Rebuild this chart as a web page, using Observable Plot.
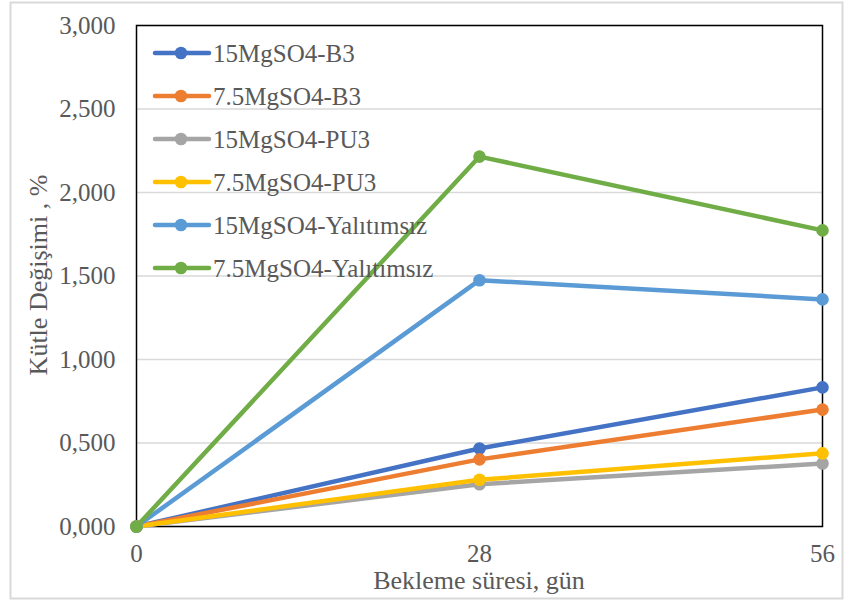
<!DOCTYPE html>
<html>
<head>
<meta charset="utf-8">
<script src="https://cdn.jsdelivr.net/npm/d3@7"></script>
<script src="https://cdn.jsdelivr.net/npm/@observablehq/plot@0.6"></script>
<style>
  html, body { margin: 0; padding: 0; background: #fff; }
  #chart { position: relative; width: 848px; height: 603px; }
</style>
</head>
<body>
<div id="chart"></div>
<script>
// ---- data ----
const days = [0, 28, 56];
const seriesNames = [
  "15MgSO4-B3",
  "7.5MgSO4-B3",
  "15MgSO4-PU3",
  "7.5MgSO4-PU3",
  "15MgSO4-Yalıtımsız",
  "7.5MgSO4-Yalıtımsız"
];
const s15B3   = [0, 0.467, 0.833];
const s75B3   = [0, 0.402, 0.700];
const s15PU3  = [0, 0.253, 0.377];
const s75PU3  = [0, 0.280, 0.438];
const s15Yal  = [0, 1.475, 1.360];
const s75Yal  = [0, 2.215, 1.773];
const seriesColors = ["#4472C4", "#ED7D31", "#A5A5A5", "#FFC000", "#5B9BD5", "#70AD47"];
const yTicks = [0, 0.5, 1, 1.5, 2, 2.5, 3];
const xTicks = [0, 28, 56];
const xTitle = "Bekleme süresi, gün";
const yTitle = "Kütle Değişimi , %";

const allValues = [s15B3, s75B3, s15PU3, s75PU3, s15Yal, s75Yal];
const rows = [];
seriesNames.forEach((name, i) => {
  days.forEach((d, j) => rows.push({series: name, day: d, value: allValues[i][j]}));
});

const fmt = d3.formatLocale({decimal: ",", thousands: ".", grouping: [3], currency: ["", ""]}).format(".3f");

const font = "'Liberation Serif', 'Times New Roman', serif";
const textColor = "#595959";
const tickFont = 25;
const legendFont = 25;
const titleFont = 26;

const plot = Plot.plot({
  width: 848,
  height: 603,
  marginLeft: 136,
  marginRight: 26,
  marginTop: 25,
  marginBottom: 77,
  style: {fontFamily: font, fontSize: tickFont + "px", color: textColor, background: "#fff"},
  x: {domain: [0, 56]},
  y: {domain: [0, 3]},
  color: {domain: seriesNames, range: seriesColors},
  marks: [
    Plot.gridY(yTicks, {stroke: "#D9D9D9", strokeOpacity: 1, strokeWidth: 1.3}),
    Plot.frame({stroke: "#000", strokeWidth: 1.5}),
    Plot.axisY(yTicks, {tickSize: 0, tickPadding: 21, tickFormat: fmt, fontSize: tickFont, fill: textColor, label: null}),
    Plot.axisX(xTicks, {tickSize: 0, tickPadding: 18, tickFormat: d => String(d), fontSize: tickFont, fill: textColor, label: null}),
    Plot.line(rows, {x: "day", y: "value", z: "series", stroke: "series", strokeWidth: 4.5, strokeLinecap: "round", strokeLinejoin: "round"}),
    Plot.dot(rows, {x: "day", y: "value", fill: "series", r: 6.3, stroke: "none"})
  ]
});

document.getElementById("chart").appendChild(plot);

const svg = d3.select(plot);

// outer chart-area border
svg.insert("rect", ":first-child")
  .attr("x", 10.5).attr("y", 2.5).attr("width", 832).attr("height", 596)
  .attr("fill", "none").attr("stroke", "#D9D9D9").attr("stroke-width", 2);

// axis titles
svg.append("text")
  .attr("x", 479).attr("y", 580).attr("dy", "0.35em")
  .attr("text-anchor", "middle").attr("font-family", font).attr("font-size", titleFont)
  .attr("fill", textColor).text(xTitle);
svg.append("text")
  .attr("transform", "translate(38,275) rotate(-90)").attr("dy", "0.35em")
  .attr("text-anchor", "middle").attr("font-family", font).attr("font-size", titleFont)
  .attr("fill", textColor).text(yTitle);

// legend (inside plot area, top-left)
const lg = svg.append("g").attr("font-family", font).attr("font-size", legendFont)
  .attr("fill", textColor).attr("text-anchor", "start");
seriesNames.forEach((name, i) => {
  const y = 53 + i * 43;
  const g = lg.append("g").attr("transform", `translate(153,${y})`);
  g.append("line").attr("x1", 2).attr("x2", 56).attr("y1", 0).attr("y2", 0)
    .attr("stroke", seriesColors[i]).attr("stroke-width", 4.5).attr("stroke-linecap", "round");
  g.append("circle").attr("cx", 28).attr("cy", 0).attr("r", 6.3).attr("fill", seriesColors[i]);
  g.append("text").attr("x", 60).attr("y", 0).attr("dy", "0.35em").text(name);
});
</script>
</body>
</html>
